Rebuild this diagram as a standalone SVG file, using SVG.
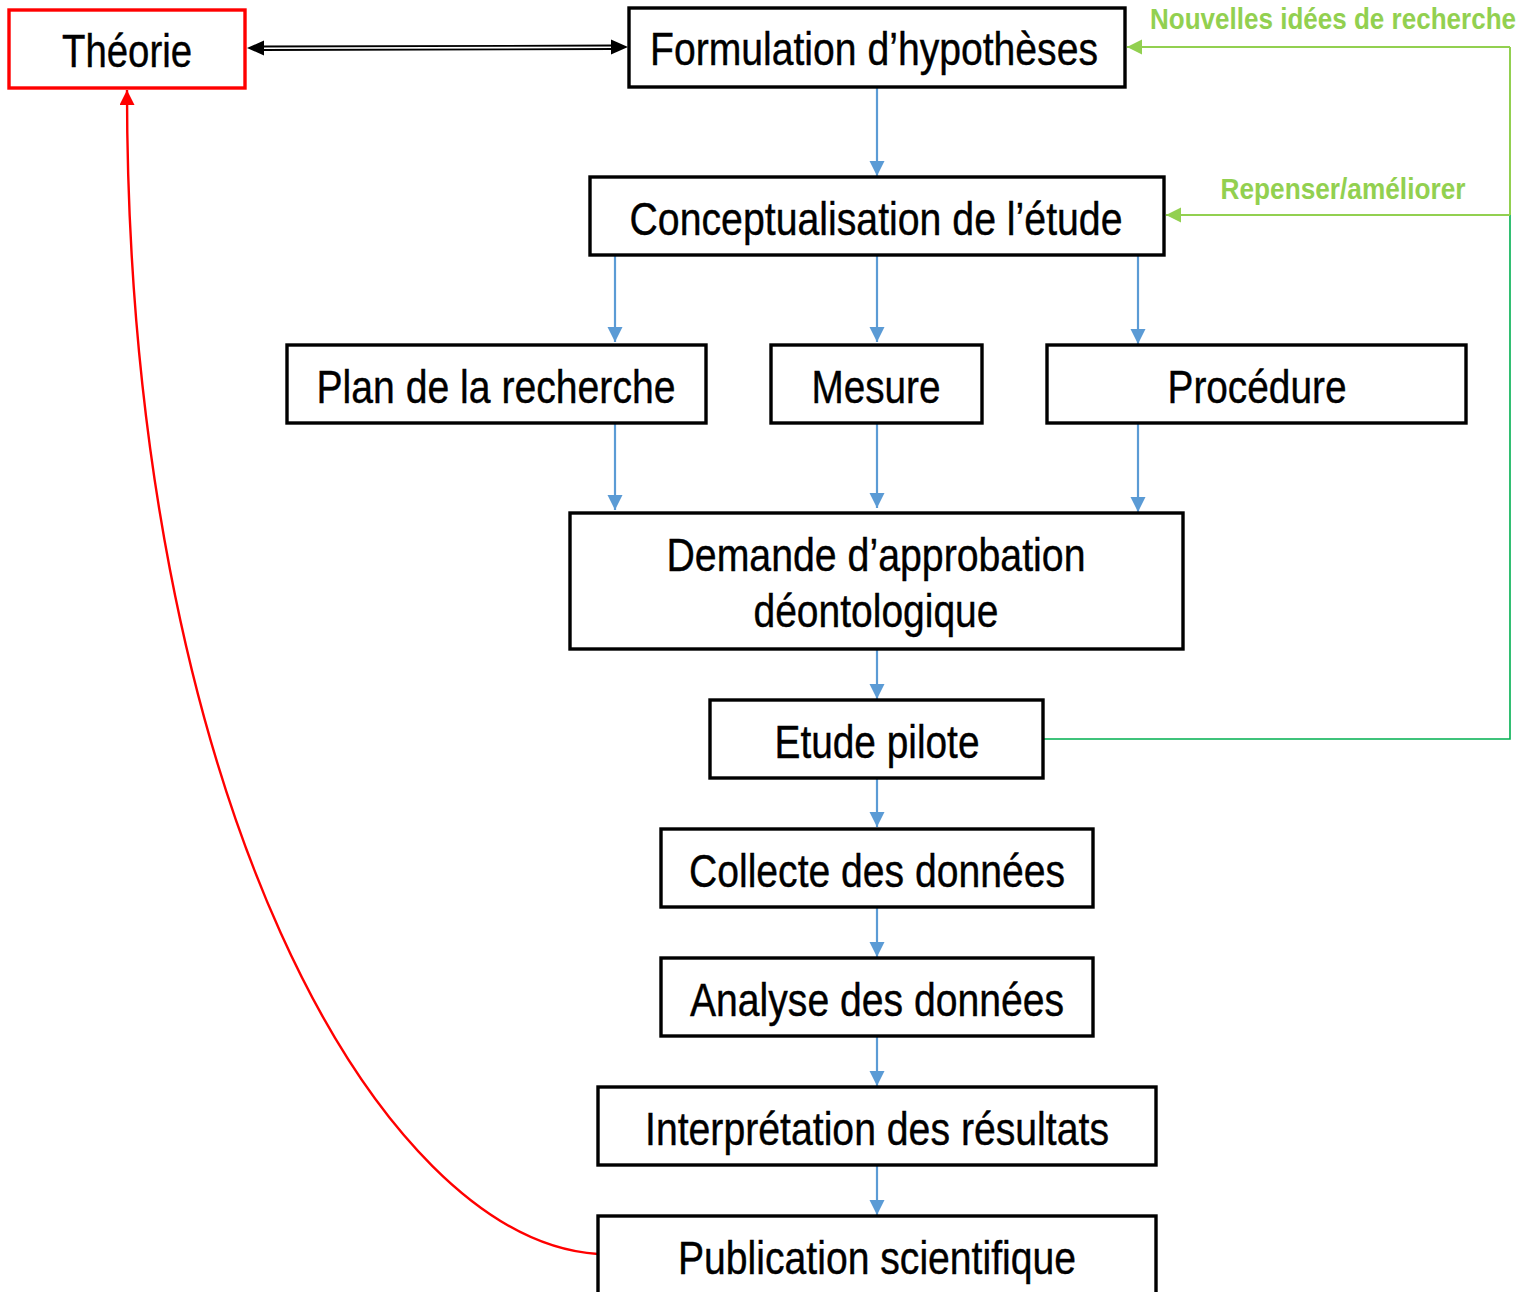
<svg xmlns="http://www.w3.org/2000/svg" width="1523" height="1292" viewBox="0 0 1523 1292">
  <style>
    .box { fill: #ffffff; stroke: #000000; stroke-width: 3.4; }
    .box-red { fill: #ffffff; stroke: #ff0000; stroke-width: 3.4; }
    .lbl { font-family: "Liberation Sans Narrow", "Liberation Sans", Arial, sans-serif; font-size: 46px; fill: #000000; stroke: #000000; stroke-width: 0.4; text-anchor: middle; }
    .glbl { font-family: "Liberation Sans Narrow", "Liberation Sans", Arial, sans-serif; font-size: 29px; font-weight: bold; fill: #92d050; text-anchor: middle; }
    .flow { fill: none; stroke: #5b9bd5; stroke-width: 2.2; marker-end: url(#arr-blue); }
    .loop { fill: none; stroke: #92d050; stroke-width: 2; }
  </style>
  <defs>
    <marker id="arr-blue" markerUnits="userSpaceOnUse" markerWidth="16" markerHeight="16" refX="15" refY="7.5" orient="auto">
      <path d="M0,0 L15,7.5 L0,15 Z" fill="#5b9bd5"/>
    </marker>
    <marker id="arr-green" markerUnits="userSpaceOnUse" markerWidth="16" markerHeight="16" refX="15" refY="7.5" orient="auto">
      <path d="M0,0 L15,7.5 L0,15 Z" fill="#92d050"/>
    </marker>
    <marker id="arr-red" markerUnits="userSpaceOnUse" markerWidth="16" markerHeight="16" refX="15" refY="7.5" orient="auto">
      <path d="M0,0 L15,7.5 L0,15 Z" fill="#ff0000"/>
    </marker>
  </defs>

  <rect width="1523" height="1292" fill="#ffffff"/>

  <!-- connectors -->
  <g id="connectors">
    <!-- double line between Théorie and hypotheses -->
    <path d="M262,46.5 L614,45.5" stroke="#000" stroke-width="1.8" fill="none"/>
    <path d="M262,50 L614,49" stroke="#000" stroke-width="1.8" fill="none"/>
    <path d="M247,48 L264,40.5 L264,55.5 Z" fill="#000"/>
    <path d="M628,47 L611,39.5 L611,54.5 Z" fill="#000"/>

    <!-- main flow -->
    <path class="flow" d="M877,88 L877,176"/>
    <path class="flow" d="M615,256 L615,342"/>
    <path class="flow" d="M877,256 L877,342"/>
    <path class="flow" d="M1138,256 L1138,344"/>
    <path class="flow" d="M615,424 L615,510"/>
    <path class="flow" d="M877,420 L877,508"/>
    <path class="flow" d="M1138,424 L1138,512"/>
    <path class="flow" d="M877,650 L877,699"/>
    <path class="flow" d="M877,779 L877,827"/>
    <path class="flow" d="M877,908 L877,957"/>
    <path class="flow" d="M877,1037 L877,1086"/>
    <path class="flow" d="M877,1166 L877,1215"/>

    <!-- feedback loop from pilot study -->
    <path d="M1044,739 L1510,739 L1510,215" fill="none" stroke="#00b050" stroke-width="1.6"/>
    <path class="loop" d="M1510,215 L1510,47"/>
    <path class="loop" d="M1510,215 L1166,215" marker-end="url(#arr-green)"/>
    <path class="loop" d="M1510,47 L1127,47" marker-end="url(#arr-green)"/>

    <!-- publication back to theory -->
    <path d="M598,1254 C380,1240 127,800 127,90" fill="none" stroke="#ff0000" stroke-width="2.4" marker-end="url(#arr-red)"/>
  </g>

  <!-- nodes -->
  <g id="theorie">
    <rect class="box-red" x="9" y="10" width="236" height="78"/>
    <text class="lbl" x="127" y="67" textLength="130" lengthAdjust="spacingAndGlyphs">Théorie</text>
  </g>
  <g id="hypotheses">
    <rect class="box" x="629" y="8" width="496" height="79"/>
    <text class="lbl" x="874" y="65" textLength="448" lengthAdjust="spacingAndGlyphs">Formulation d’hypothèses</text>
  </g>
  <g id="conceptualisation">
    <rect class="box" x="590" y="177" width="574" height="78"/>
    <text class="lbl" x="876" y="235" textLength="493" lengthAdjust="spacingAndGlyphs">Conceptualisation de l’étude</text>
  </g>
  <g id="plan">
    <rect class="box" x="287" y="345" width="419" height="78"/>
    <text class="lbl" x="496" y="403" textLength="359" lengthAdjust="spacingAndGlyphs">Plan de la recherche</text>
  </g>
  <g id="mesure">
    <rect class="box" x="771" y="345" width="211" height="78"/>
    <text class="lbl" x="876" y="403" textLength="129" lengthAdjust="spacingAndGlyphs">Mesure</text>
  </g>
  <g id="procedure">
    <rect class="box" x="1047" y="345" width="419" height="78"/>
    <text class="lbl" x="1257" y="403" textLength="179" lengthAdjust="spacingAndGlyphs">Procédure</text>
  </g>
  <g id="deontologie">
    <rect class="box" x="570" y="513" width="613" height="136"/>
    <text class="lbl" x="876" y="571" textLength="419" lengthAdjust="spacingAndGlyphs">Demande d’approbation</text>
    <text class="lbl" x="876" y="627" textLength="245" lengthAdjust="spacingAndGlyphs">déontologique</text>
  </g>
  <g id="pilote">
    <rect class="box" x="710" y="700" width="333" height="78"/>
    <text class="lbl" x="877" y="758" textLength="205" lengthAdjust="spacingAndGlyphs">Etude pilote</text>
  </g>
  <g id="collecte">
    <rect class="box" x="661" y="829" width="432" height="78"/>
    <text class="lbl" x="877" y="887" textLength="376" lengthAdjust="spacingAndGlyphs">Collecte des données</text>
  </g>
  <g id="analyse">
    <rect class="box" x="661" y="958" width="432" height="78"/>
    <text class="lbl" x="877" y="1016" textLength="374" lengthAdjust="spacingAndGlyphs">Analyse des données</text>
  </g>
  <g id="interpretation">
    <rect class="box" x="598" y="1087" width="558" height="78"/>
    <text class="lbl" x="877" y="1145" textLength="464" lengthAdjust="spacingAndGlyphs">Interprétation des résultats</text>
  </g>
  <g id="publication">
    <rect class="box" x="598" y="1216" width="558" height="90"/>
    <text class="lbl" x="877" y="1274" textLength="398" lengthAdjust="spacingAndGlyphs">Publication scientifique</text>
  </g>

  <!-- loop labels -->
  <g id="loop-labels">
    <text class="glbl" x="1333" y="29" textLength="366" lengthAdjust="spacingAndGlyphs">Nouvelles idées de recherche</text>
    <text class="glbl" x="1343" y="199" textLength="245" lengthAdjust="spacingAndGlyphs">Repenser/améliorer</text>
  </g>
</svg>
